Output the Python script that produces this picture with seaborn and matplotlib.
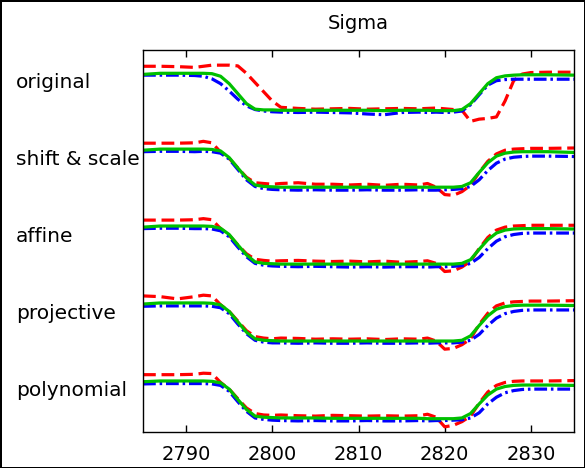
import numpy as np
import pandas as pd
import matplotlib
matplotlib.use('Agg')
import matplotlib.pyplot as plt
import matplotlib.transforms as mtransforms
import seaborn as sns

# x positions (common for all curves)
xs = [2785, 2787, 2789, 2791, 2792, 2793, 2794, 2795, 2796, 2797, 2798, 2799,
      2800, 2801, 2803, 2805, 2807, 2809, 2811, 2813, 2815, 2817, 2818, 2819,
      2820, 2821, 2822, 2823, 2824, 2825, 2826, 2827, 2828, 2829, 2830, 2832, 2835]

group_names = ['original', 'shift & scale', 'affine', 'projective', 'polynomial']

# original
orig_red = [1.19, 1.19, 1.18, 1.16, 1.19, 1.22, 1.22, 1.22, 1.20, 1.00, 0.75, 0.50,
            0.25, 0.08, 0.05, 0.03, 0.04, 0.05, 0.03, 0.04, 0.05, 0.04, 0.05, 0.06,
            0.04, 0.02, 0.00, -0.30, -0.24, -0.22, -0.18, 0.25, 0.80, 0.98, 1.02, 1.03, 1.03]
orig_green = [0.97, 1.00, 1.00, 1.00, 1.00, 0.99, 0.92, 0.72, 0.45, 0.18, 0.03, 0.01,
              0.01, 0.00, 0.00, 0.00, 0.00, 0.00, 0.00, -0.01, 0.00, 0.00, 0.00, -0.01,
              -0.01, -0.01, 0.02, 0.18, 0.45, 0.72, 0.88, 0.93, 0.95, 0.96, 0.96, 0.96, 0.95]
orig_blue = [0.95, 0.95, 0.95, 0.94, 0.92, 0.85, 0.72, 0.52, 0.30, 0.12, 0.02, -0.02,
             -0.04, -0.05, -0.06, -0.05, -0.06, -0.07, -0.10, -0.12, -0.06, -0.05, -0.06, -0.05,
             -0.06, -0.05, -0.02, 0.15, 0.42, 0.68, 0.80, 0.83, 0.84, 0.84, 0.84, 0.84, 0.84]

# shift & scale
shift_red = [1.19, 1.19, 1.19, 1.20, 1.24, 1.20, 0.95, 0.78, 0.52, 0.27, 0.12, 0.10,
             0.08, 0.10, 0.12, 0.08, 0.08, 0.06, 0.08, 0.05, 0.08, 0.06, 0.10, 0.00,
             -0.20, -0.22, -0.12, 0.05, 0.40, 0.70, 0.90, 1.00, 1.03, 1.04, 1.05, 1.05, 1.06]
shift_green = [1.00, 1.03, 1.03, 1.03, 1.03, 1.02, 0.98, 0.80, 0.52, 0.25, 0.06, 0.02,
               0.01, 0.00, 0.00, 0.00, 0.00, 0.00, 0.00, 0.00, 0.00, 0.00, 0.00, 0.00,
               0.00, 0.00, 0.02, 0.12, 0.40, 0.66, 0.84, 0.92, 0.95, 0.96, 0.96, 0.96, 0.94]
shift_blue = [0.96, 0.97, 0.97, 0.96, 0.97, 0.96, 0.92, 0.76, 0.48, 0.20, 0.02, -0.04,
              -0.06, -0.07, -0.08, -0.07, -0.08, -0.08, -0.07, -0.08, -0.08, -0.07, -0.08, -0.08,
              -0.07, -0.06, -0.04, 0.02, 0.20, 0.45, 0.65, 0.76, 0.81, 0.83, 0.84, 0.84, 0.83]

# affine
affine_red = [1.19, 1.19, 1.19, 1.20, 1.23, 1.20, 0.96, 0.78, 0.52, 0.28, 0.13, 0.10,
              0.08, 0.09, 0.10, 0.08, 0.07, 0.08, 0.06, 0.08, 0.05, 0.07, 0.09, 0.02,
              -0.20, -0.18, -0.08, 0.08, 0.42, 0.72, 0.92, 1.00, 1.03, 1.04, 1.05, 1.05, 1.05]
affine_green = [1.00, 1.03, 1.03, 1.03, 1.03, 1.02, 0.97, 0.80, 0.52, 0.25, 0.06, 0.02,
                0.01, 0.00, 0.00, 0.00, 0.00, 0.00, 0.00, 0.00, 0.00, 0.00, 0.00, 0.00,
                0.00, 0.00, 0.02, 0.12, 0.40, 0.66, 0.84, 0.92, 0.95, 0.96, 0.96, 0.96, 0.95]
affine_blue = [0.96, 0.97, 0.97, 0.96, 0.96, 0.95, 0.90, 0.74, 0.46, 0.20, 0.02, -0.03,
               -0.05, -0.06, -0.07, -0.06, -0.07, -0.08, -0.07, -0.08, -0.07, -0.07, -0.08, -0.07,
               -0.07, -0.06, -0.04, 0.02, 0.18, 0.42, 0.62, 0.74, 0.80, 0.83, 0.84, 0.84, 0.84]

# projective
proj_red = [1.22, 1.20, 1.14, 1.20, 1.24, 1.22, 0.98, 0.80, 0.54, 0.28, 0.12, 0.08,
            0.06, 0.08, 0.07, 0.05, 0.06, 0.05, 0.06, 0.04, 0.06, 0.05, 0.08, 0.00,
            -0.22, -0.20, -0.10, 0.06, 0.45, 0.75, 0.95, 1.03, 1.06, 1.07, 1.08, 1.08, 1.09]
proj_green = [1.00, 1.03, 1.03, 1.03, 1.03, 1.02, 0.98, 0.80, 0.52, 0.24, 0.06, 0.02,
              0.01, 0.00, 0.00, 0.00, 0.00, 0.00, 0.00, 0.00, 0.00, 0.00, 0.00, 0.00,
              0.00, 0.00, 0.02, 0.14, 0.42, 0.68, 0.86, 0.93, 0.96, 0.97, 0.97, 0.97, 0.96]
proj_blue = [0.94, 0.95, 0.95, 0.95, 0.95, 0.94, 0.90, 0.74, 0.46, 0.20, 0.02, -0.03,
             -0.05, -0.05, -0.06, -0.05, -0.06, -0.06, -0.05, -0.06, -0.06, -0.05, -0.06, -0.05,
             -0.05, -0.05, -0.03, 0.02, 0.18, 0.42, 0.62, 0.74, 0.80, 0.83, 0.84, 0.84, 0.84]

# polynomial
poly_red = [1.17, 1.17, 1.17, 1.18, 1.21, 1.20, 0.96, 0.78, 0.52, 0.27, 0.12, 0.08,
            0.07, 0.08, 0.06, 0.05, 0.07, 0.06, 0.05, 0.06, 0.05, 0.06, 0.10, 0.02,
            -0.24, -0.20, -0.10, 0.05, 0.40, 0.70, 0.88, 0.96, 0.99, 1.00, 1.00, 1.00, 1.01]
poly_green = [0.98, 1.00, 1.00, 1.00, 1.00, 0.99, 0.95, 0.78, 0.50, 0.23, 0.05, 0.02,
              0.01, 0.00, 0.00, 0.00, -0.01, -0.01, -0.01, -0.01, -0.01, -0.01, -0.02, -0.02,
              -0.02, -0.02, 0.00, 0.12, 0.38, 0.62, 0.78, 0.85, 0.88, 0.89, 0.89, 0.89, 0.88]
poly_blue = [0.92, 0.93, 0.93, 0.93, 0.93, 0.92, 0.88, 0.72, 0.44, 0.18, 0.00, -0.04,
             -0.06, -0.07, -0.08, -0.07, -0.08, -0.08, -0.07, -0.08, -0.08, -0.07, -0.08, -0.07,
             -0.07, -0.06, -0.05, 0.00, 0.14, 0.38, 0.56, 0.68, 0.74, 0.77, 0.78, 0.78, 0.78]

curves = {
    'original': (orig_red, orig_green, orig_blue),
    'shift & scale': (shift_red, shift_green, shift_blue),
    'affine': (affine_red, affine_green, affine_blue),
    'projective': (proj_red, proj_green, proj_blue),
    'polynomial': (poly_red, poly_green, poly_blue),
}

# vertical spacing between the stacked groups
spacing = 2.08

rows = []
for i, name in enumerate(group_names):
    offset = (len(group_names) - 1 - i) * spacing
    for kind, vals in zip(['red', 'green', 'blue'], curves[name]):
        for x, v in zip(xs, vals):
            rows.append({'x': x, 'sigma': v + offset, 'group': name, 'curve': kind})
df = pd.DataFrame(rows)

sns.set_style('white')
plt.rcParams['font.family'] = ['DejaVu Sans']
plt.rcParams['text.color'] = 'black'
plt.rcParams['xtick.color'] = 'black'

fig = plt.figure(figsize=(5.85, 4.68), dpi=100)
ax = fig.add_axes([143 / 585, 36 / 468, 431 / 585, 382 / 468])

palette = {'red': '#ff0000', 'green': '#00c000', 'blue': '#0000ff'}
dashes = {'red': (4, 1.8), 'green': '', 'blue': (4, 1.2, 0.8, 1.2)}

for name in group_names:
    sub = df[df['group'] == name]
    sns.lineplot(data=sub, x='x', y='sigma', hue='curve', style='curve',
                 hue_order=['red', 'blue', 'green'], style_order=['red', 'blue', 'green'],
                 palette=palette, dashes=dashes, linewidth=2.3, legend=False,
                 ax=ax, estimator=None, sort=False)

ax.set_xlim(2785, 2835)
ax.set_ylim(-0.38, 9.95)
ax.set_xticks([2790, 2800, 2810, 2820, 2830])
ax.set_yticks([])
ax.set_xlabel('')
ax.set_ylabel('')
ax.tick_params(axis='x', direction='in', top=True, bottom=True, length=5,
               width=1, labelsize=14, colors='black', pad=9)
for sp in ax.spines.values():
    sp.set_color('black')
    sp.set_linewidth(1)
ax.set_title('Sigma', fontsize=14, pad=15, color='black')

# group labels on the left, outside the axes
trans = mtransforms.blended_transform_factory(fig.transFigure, ax.transData)
for i, name in enumerate(group_names):
    offset = (len(group_names) - 1 - i) * spacing
    ax.text(16 / 585, offset + 0.75, name, transform=trans, ha='left', va='center',
            fontsize=14.5, color='black', clip_on=False)

fig.patch.set_edgecolor('black')
fig.patch.set_linewidth(2)

fig.savefig('out.png', dpi=100)
